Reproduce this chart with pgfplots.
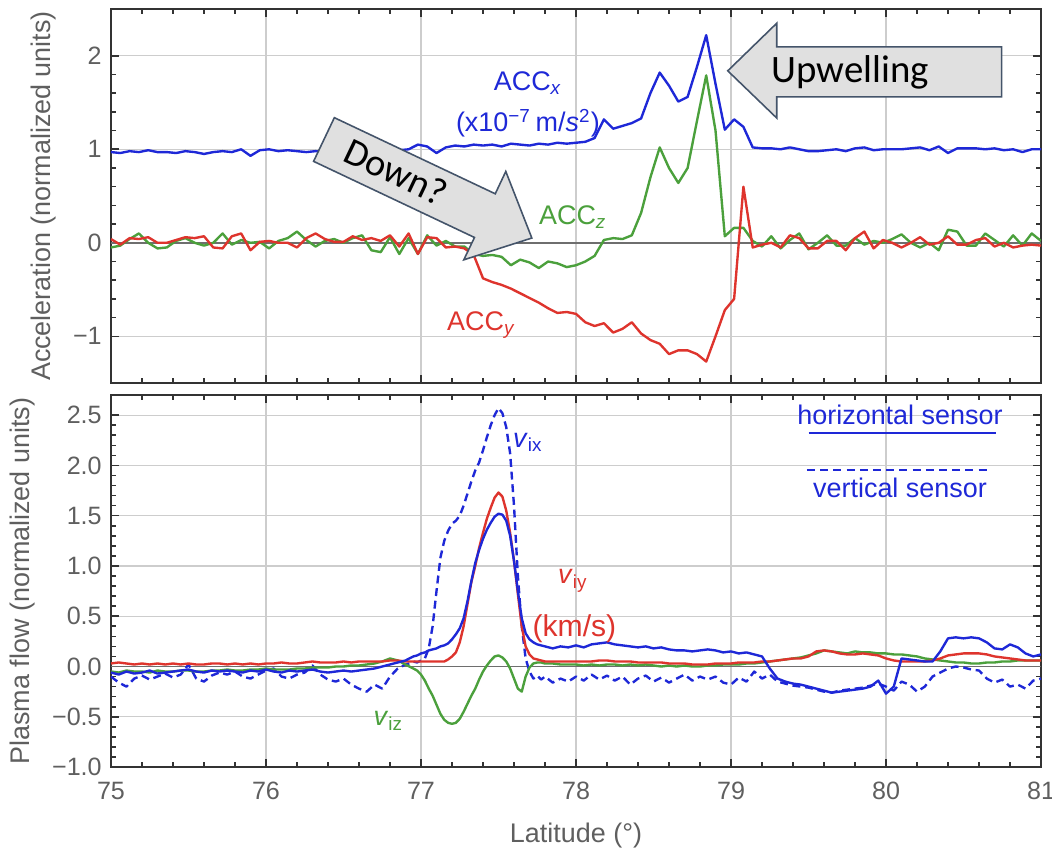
\documentclass[border=0pt]{standalone}
\usepackage{fontspec}
\setmainfont{Liberation Sans}
\newfontfamily\calibri{Carlito}
\usepackage{pgfplots}
\usepackage{pgfplotstable}
\pgfplotsset{compat=1.18}

\definecolor{cblue}{RGB}{30,40,215}
\definecolor{cred}{RGB}{222,52,45}
\definecolor{cgreen}{RGB}{75,160,60}
\definecolor{tgray}{RGB}{95,95,95}
\definecolor{gridc}{RGB}{205,205,205}
\definecolor{zeroc}{RGB}{110,110,110}
\definecolor{arrowfill}{RGB}{224,224,224}
\definecolor{arrowline}{RGB}{68,84,106}

\newcommand{\lab}{\fontsize{10.2}{12}\selectfont}
\newcommand{\tck}{\fontsize{9.5}{11}\selectfont}

% top panel: acceleration
\pgfplotstableread{
lat ax ay az
75.00 0.97 0.04 -0.05
75.06 0.96 -0.02 -0.03
75.12 0.98 0.05 0.04
75.18 0.97 0.04 0.10
75.24 0.99 0.06 0.00
75.30 0.97 0.00 -0.06
75.36 0.97 0.00 -0.05
75.42 0.96 0.03 0.02
75.48 0.98 0.06 0.05
75.54 0.97 0.05 0.00
75.60 0.95 0.07 -0.03
75.66 0.97 -0.05 0.00
75.72 0.98 -0.06 0.10
75.78 0.97 0.07 -0.02
75.84 1.00 0.10 0.03
75.90 0.93 -0.08 0.00
75.96 0.99 0.01 0.01
76.02 1.00 0.02 -0.06
76.08 0.98 0.00 0.02
76.14 0.99 0.00 0.05
76.20 0.98 -0.05 0.12
76.26 0.97 0.05 0.03
76.32 0.98 0.10 -0.04
76.38 0.97 0.04 0.02
76.44 0.99 0.01 0.04
76.50 0.98 0.01 0.00
76.56 0.97 0.07 0.05
76.62 0.99 0.03 0.08
76.68 1.00 0.05 -0.08
76.74 0.98 0.02 -0.10
76.80 1.00 0.08 0.06
76.86 0.99 -0.04 -0.12
76.92 1.00 0.10 0.05
76.98 1.05 -0.12 -0.12
77.04 1.03 0.06 0.08
77.10 0.96 0.05 -0.03
77.16 1.02 -0.05 0.02
77.22 1.04 -0.04 -0.04
77.28 1.03 -0.06 -0.04
77.34 1.05 -0.13 -0.12
77.40 1.04 -0.38 -0.14
77.46 1.05 -0.42 -0.13
77.52 1.03 -0.45 -0.15
77.58 1.06 -0.49 -0.24
77.64 1.05 -0.54 -0.18
77.70 1.04 -0.59 -0.21
77.76 1.06 -0.64 -0.27
77.82 1.05 -0.70 -0.20
77.88 1.07 -0.75 -0.22
77.94 1.06 -0.74 -0.26
78.00 1.07 -0.76 -0.24
78.06 1.08 -0.85 -0.20
78.12 1.12 -0.89 -0.14
78.18 1.32 -0.86 0.03
78.24 1.22 -0.96 0.05
78.30 1.25 -0.92 0.04
78.36 1.28 -0.85 0.08
78.42 1.33 -0.97 0.32
78.48 1.60 -1.04 0.70
78.54 1.82 -1.08 1.02
78.60 1.68 -1.19 0.80
78.66 1.51 -1.15 0.64
78.72 1.56 -1.15 0.80
78.78 1.88 -1.19 1.30
78.84 2.22 -1.27 1.79
78.90 1.70 -1.00 1.20
78.96 1.21 -0.72 0.07
79.02 1.32 -0.60 0.16
79.08 1.24 0.60 0.16
79.14 1.02 -0.05 0.02
79.20 1.01 -0.02 -0.04
79.26 1.01 0.00 0.07
79.32 1.00 -0.05 -0.06
79.38 1.02 0.08 0.03
79.44 1.00 0.05 0.10
79.50 0.98 -0.06 -0.07
79.56 0.98 -0.06 0.00
79.62 0.99 0.02 0.08
79.68 1.00 0.02 -0.03
79.74 0.98 -0.08 -0.03
79.80 1.01 0.05 0.05
79.86 1.02 0.12 -0.02
79.92 0.99 -0.06 0.02
79.98 1.00 0.03 0.00
80.04 1.00 0.00 0.04
80.10 1.00 -0.05 0.09
80.16 1.01 0.00 0.00
80.22 1.02 0.06 -0.05
80.28 0.99 -0.02 0.00
80.34 1.03 0.00 -0.08
80.40 0.96 0.07 0.14
80.46 1.01 -0.02 0.12
80.52 1.01 -0.02 -0.03
80.58 1.01 0.03 -0.03
80.64 1.00 0.05 0.10
80.70 1.01 -0.04 0.03
80.76 0.99 0.00 -0.04
80.82 1.00 -0.05 0.08
80.88 0.97 -0.03 -0.03
80.94 1.00 -0.02 0.10
81.00 1.00 -0.03 0.02
}\acc

% bottom panel: plasma flow
\pgfplotstableread{
lat hx vx vy vz
75.00 -0.06 -0.10 0.03 -0.05
75.05 -0.08 -0.16 0.04 -0.06
75.10 -0.05 -0.20 0.03 -0.04
75.15 -0.07 -0.12 0.02 -0.05
75.20 -0.06 -0.09 0.03 -0.05
75.25 -0.04 -0.13 0.02 -0.06
75.30 -0.07 -0.10 0.03 -0.04
75.35 -0.06 -0.07 0.02 -0.05
75.40 -0.05 -0.11 0.03 -0.05
75.45 -0.04 -0.08 0.02 -0.04
75.50 -0.03 0.02 0.03 -0.04
75.55 -0.05 -0.12 0.02 -0.05
75.60 -0.06 -0.15 0.02 -0.05
75.65 -0.04 -0.09 0.03 -0.04
75.70 -0.05 -0.06 0.03 -0.04
75.75 -0.04 -0.08 0.02 -0.03
75.80 -0.05 -0.05 0.03 -0.04
75.85 -0.06 -0.10 0.02 -0.04
75.90 -0.04 -0.12 0.03 -0.03
75.95 -0.05 -0.08 0.02 -0.03
76.00 -0.03 -0.04 0.03 -0.02
76.05 -0.05 -0.02 0.03 -0.03
76.10 -0.06 -0.10 0.04 -0.03
76.15 -0.04 -0.12 0.03 -0.03
76.20 -0.05 -0.08 0.03 -0.02
76.25 -0.04 -0.06 0.04 -0.02
76.30 -0.03 0.01 0.05 -0.01
76.35 -0.05 -0.08 0.04 -0.01
76.40 -0.06 -0.13 0.04 -0.01
76.45 -0.05 -0.15 0.04 0.00
76.50 -0.04 -0.12 0.05 0.00
76.55 -0.05 -0.18 0.04 0.01
76.60 -0.04 -0.22 0.05 0.01
76.65 -0.03 -0.25 0.05 0.02
76.70 -0.02 -0.18 0.05 0.03
76.75 0.00 -0.22 0.05 0.05
76.80 0.02 -0.10 0.06 0.08
76.85 0.04 -0.02 0.06 0.06
76.90 0.06 0.02 0.05 0.02
76.925 0.08 0.03 0.05 0.00
76.950 0.10 0.05 0.05 -0.02
76.975 0.11 0.04 0.05 -0.04
77.000 0.13 0.06 0.05 -0.08
77.025 0.14 0.08 0.05 -0.14
77.050 0.16 0.18 0.05 -0.22
77.075 0.17 0.40 0.05 -0.29
77.100 0.18 0.75 0.05 -0.38
77.125 0.20 1.08 0.05 -0.47
77.150 0.21 1.25 0.05 -0.53
77.175 0.23 1.35 0.07 -0.56
77.200 0.27 1.42 0.10 -0.57
77.225 0.32 1.45 0.14 -0.56
77.250 0.38 1.50 0.24 -0.52
77.275 0.48 1.60 0.40 -0.45
77.300 0.65 1.72 0.62 -0.37
77.325 0.85 1.84 0.84 -0.29
77.350 1.03 1.95 1.00 -0.22
77.375 1.16 2.03 1.18 -0.13
77.400 1.27 2.15 1.33 -0.05
77.425 1.36 2.28 1.47 0.01
77.450 1.43 2.40 1.58 0.06
77.475 1.49 2.50 1.68 0.10
77.500 1.52 2.57 1.73 0.11
77.525 1.51 2.52 1.69 0.09
77.550 1.45 2.38 1.55 0.05
77.575 1.30 2.12 1.33 -0.02
77.600 1.05 1.60 1.05 -0.12
77.625 0.75 0.90 0.72 -0.22
77.650 0.48 0.40 0.40 -0.25
77.675 0.33 0.08 0.20 -0.10
77.700 0.27 -0.05 0.12 -0.01
77.725 0.24 -0.12 0.08 0.03
77.750 0.22 -0.09 0.07 0.04
77.775 0.21 -0.13 0.06 0.04
77.800 0.20 -0.10 0.05 0.03
77.85 0.18 -0.16 0.05 0.03
77.90 0.20 -0.12 0.05 0.02
77.95 0.19 -0.15 0.05 0.02
78.00 0.21 -0.10 0.05 0.02
78.05 0.19 -0.14 0.05 0.01
78.10 0.22 -0.08 0.05 0.02
78.15 0.23 -0.13 0.06 0.01
78.20 0.24 -0.09 0.06 0.02
78.25 0.22 -0.14 0.05 0.02
78.30 0.21 -0.10 0.05 0.01
78.35 0.20 -0.18 0.05 0.02
78.40 0.19 -0.12 0.04 0.01
78.45 0.20 -0.09 0.04 0.02
78.50 0.18 -0.15 0.04 0.01
78.55 0.19 -0.11 0.04 0.00
78.60 0.17 -0.16 0.03 0.01
78.65 0.16 -0.12 0.03 0.00
78.70 0.16 -0.08 0.03 0.01
78.75 0.15 -0.14 0.02 0.00
78.80 0.16 -0.10 0.02 0.00
78.85 0.17 -0.13 0.02 0.01
78.90 0.16 -0.10 0.03 0.01
78.95 0.14 -0.16 0.03 0.02
79.00 0.15 -0.18 0.03 0.02
79.05 0.13 -0.11 0.04 0.02
79.10 0.14 -0.15 0.04 0.03
79.15 0.12 -0.05 0.04 0.03
79.20 0.10 -0.12 0.05 0.04
79.25 -0.02 -0.08 0.05 0.05
79.30 -0.12 -0.15 0.06 0.06
79.35 -0.15 -0.17 0.07 0.07
79.40 -0.17 -0.19 0.08 0.08
79.45 -0.18 -0.20 0.08 0.09
79.50 -0.20 -0.21 0.10 0.11
79.55 -0.22 -0.23 0.15 0.13
79.60 -0.24 -0.25 0.16 0.16
79.65 -0.26 -0.26 0.15 0.15
79.70 -0.25 -0.24 0.13 0.14
79.75 -0.24 -0.23 0.12 0.13
79.80 -0.23 -0.22 0.12 0.15
79.85 -0.22 -0.21 0.13 0.14
79.90 -0.20 -0.19 0.12 0.14
79.95 -0.14 -0.17 0.11 0.13
80.00 -0.27 -0.20 0.08 0.13
80.05 -0.20 -0.24 0.06 0.12
80.10 0.08 -0.15 0.05 0.12
80.15 0.07 -0.18 0.05 0.11
80.20 0.06 -0.25 0.05 0.10
80.25 0.05 -0.20 0.05 0.08
80.30 0.05 -0.10 0.06 0.07
80.35 0.15 -0.06 0.08 0.06
80.40 0.28 -0.02 0.11 0.05
80.45 0.29 0.00 0.12 0.04
80.50 0.28 -0.01 0.13 0.04
80.55 0.29 -0.03 0.13 0.03
80.60 0.28 -0.04 0.13 0.03
80.65 0.24 -0.12 0.12 0.04
80.70 0.18 -0.16 0.10 0.04
80.75 0.17 -0.13 0.09 0.05
80.80 0.22 -0.20 0.08 0.05
80.85 0.19 -0.18 0.07 0.06
80.90 0.13 -0.22 0.06 0.06
80.95 0.10 -0.14 0.06 0.06
81.00 0.12 -0.12 0.06 0.06
}\flow

\pgfplotsset{
  panel/.style={
    scale only axis, width=12.377cm,
    xmin=75, xmax=81, xtick={75,76,77,78,79,80,81},
    minor x tick num=4, minor y tick num=4,
    tick align=inside,
    major tick length=0.11cm, minor tick length=0.065cm,
    axis line style={black!80, line width=0.8pt},
    every tick/.style={black!80, line width=0.6pt},
    grid=major, major grid style={gridc, line width=0.45pt},
    tick label style={font=\tck, text=tgray},
    label style={font=\lab, text=tgray},
    ylabel style={anchor=center},
    every axis plot/.append style={line width=0.9pt, line join=round},
  },
}

\begin{document}
\begin{tikzpicture}
\path[use as bounding box] (-1.477cm,-1.118cm) rectangle (12.523cm,10.208cm);

\begin{axis}[panel, at={(0,5.110cm)}, anchor=south west, height=4.978cm,
  ymin=-1.5, ymax=2.5, ytick={-1,0,1,2}, yticklabels={−1,0,1,2},
  xticklabels={},
  ylabel={Acceleration (normalized units)},
  ylabel style={at={(axis description cs:-0.072,0.5)}}]
\draw[zeroc, line width=0.6pt] (axis cs:75,0) -- (axis cs:81,0);
\addplot[cblue] table[x=lat, y=ax] {\acc};
\addplot[cgreen] table[x=lat, y=az] {\acc};
\addplot[cred] table[x=lat, y=ay] {\acc};
\node[text=cblue, font=\lab] at (axis cs:77.69,1.71) {ACC\textsubscript{\textit{x}}};
\node[text=cblue, font=\lab] at (axis cs:77.69,1.28) {(x10\textsuperscript{−7}\,m/\textit{s}\textsuperscript{2})};
\node[text=cgreen, font=\lab] at (axis cs:77.98,0.27) {ACC\textsubscript{\textit{z}}};
\node[text=cred, font=\lab] at (axis cs:77.39,-0.88) {ACC\textsubscript{\textit{y}}};
% annotation arrows
\draw[arrowline, fill=arrowfill, line width=0.6pt, line join=miter]
  (axis cs:78.979,1.839) -- (axis cs:79.295,2.348) -- (axis cs:79.295,2.095)
  -- (axis cs:80.746,2.095) -- (axis cs:80.746,1.561) -- (axis cs:79.295,1.561)
  -- (axis cs:79.295,1.334) -- cycle;
\node[anchor=west, inner sep=0pt, font=\calibri\fontsize{14.7}{16}\selectfont]
  at (axis cs:79.258,1.82) {Upwelling};
\draw[arrowline, fill=arrowfill, line width=0.6pt, line join=miter]
  (axis cs:76.441,1.338) -- (axis cs:77.479,0.524) -- (axis cs:77.547,0.763)
  -- (axis cs:77.715,0.051) -- (axis cs:77.276,-0.182) -- (axis cs:77.345,0.057)
  -- (axis cs:76.307,0.871) -- cycle;
\node[rotate=-25.4, inner sep=0pt, font=\calibri\fontsize{14.5}{16}\selectfont]
  at (axis cs:76.84,0.76) {Down?};
\end{axis}

\begin{axis}[panel, at={(0,0)}, anchor=south west, height=4.951cm,
  ymin=-1, ymax=2.7,
  ytick={-1,-0.5,0,0.5,1,1.5,2,2.5},
  yticklabels={−1.0,−0.5,0.0,0.5,1.0,1.5,2.0,2.5},
  xticklabels={75,76,77,78,79,80,81},
  x tick label style={yshift=-0.08cm},
  xlabel={Latitude (°)},
  xlabel style={at={(axis description cs:0.5,0)}, anchor=center, yshift=-0.905cm},
  ylabel={Plasma flow (normalized units)},
  ylabel style={at={(axis description cs:-0.0953,0.5)}}]
\draw[zeroc, line width=0.6pt] (axis cs:75,0) -- (axis cs:81,0);
\addplot[cblue, dash pattern=on 3pt off 1.8pt] table[x=lat, y=vx] {\flow};
\addplot[cgreen] table[x=lat, y=vz] {\flow};
\addplot[cred] table[x=lat, y=vy] {\flow};
\addplot[cblue] table[x=lat, y=hx] {\flow};
\node[text=cblue, font=\lab] at (axis cs:77.69,2.23) {\textit{v}\textsubscript{ix}};
\node[text=cred, font=\lab] at (axis cs:77.98,0.85) {\textit{v}\textsubscript{iy}};
\node[text=cred, font=\fontsize{11.4}{13}\selectfont] at (axis cs:77.99,0.38) {(km/s)};
\node[text=cgreen, font=\lab] at (axis cs:76.79,-0.54) {\textit{v}\textsubscript{iz}};
\node[text=cblue, font=\lab] at (axis cs:80.09,2.50) {horizontal sensor};
\draw[cblue, line width=0.8pt] (axis cs:79.50,2.32) -- (axis cs:80.71,2.32);
\draw[cblue, line width=0.8pt, dash pattern=on 3pt off 2pt] (axis cs:79.49,1.95) -- (axis cs:80.65,1.95);
\node[text=cblue, font=\lab] at (axis cs:80.09,1.78) {vertical sensor};
\end{axis}
\end{tikzpicture}
\end{document}
